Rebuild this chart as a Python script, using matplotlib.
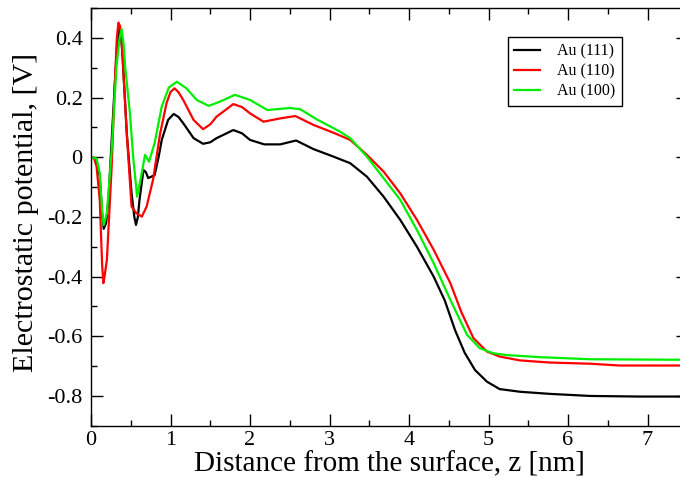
import numpy as np
import matplotlib
matplotlib.use('Agg')
import matplotlib.pyplot as plt
from matplotlib.ticker import MultipleLocator

plt.rcParams['font.family'] = 'Liberation Serif'
plt.rcParams['axes.unicode_minus'] = False

# Au (111) - black
z_111 = [0.0, 0.04, 0.07, 0.11, 0.14, 0.16, 0.19, 0.22, 0.26, 0.30, 0.33, 0.36, 0.38, 0.40,
         0.45, 0.51, 0.545, 0.566, 0.59, 0.61, 0.66, 0.69, 0.72, 0.80, 0.85, 0.89, 0.97,
         1.04, 1.10, 1.16, 1.29, 1.41, 1.50, 1.58, 1.79, 1.90, 2.0, 2.18, 2.38, 2.58,
         2.80, 3.05, 3.26, 3.47, 3.68, 3.89, 4.10, 4.31, 4.45, 4.58, 4.70, 4.83, 4.98, 5.14,
         5.40, 5.77, 6.28, 6.90, 7.6]
v_111 = [0.0, -0.002, -0.01, -0.065, -0.19, -0.24, -0.22, -0.14, 0.058, 0.248, 0.38, 0.432,
         0.40, 0.326, 0.08, -0.12, -0.20, -0.227, -0.20, -0.143, -0.043, -0.05, -0.07, -0.06,
         0.0, 0.058, 0.125, 0.145, 0.135, 0.114, 0.064, 0.045, 0.05, 0.064, 0.091, 0.08,
         0.058, 0.043, 0.043, 0.056, 0.027, 0.002, -0.020, -0.065, -0.132, -0.21, -0.30,
         -0.40, -0.48, -0.58, -0.655, -0.713, -0.752, -0.777, -0.786, -0.793, -0.80, -0.802,
         -0.802]

# Au (110) - red
z_110 = [0.0, 0.04, 0.07, 0.11, 0.14, 0.155, 0.17, 0.20, 0.26, 0.30, 0.325, 0.345, 0.365,
         0.385, 0.45, 0.51, 0.57, 0.64, 0.70, 0.78, 0.87, 0.95, 1.0, 1.05, 1.10, 1.16, 1.29,
         1.41, 1.50, 1.58, 1.79, 1.90, 2.0, 2.17, 2.38, 2.57, 2.80, 3.05, 3.26, 3.47, 3.68,
         3.89, 4.10, 4.31, 4.52, 4.66, 4.81, 4.98, 5.14, 5.40, 5.77, 6.28, 6.65, 7.6]
v_110 = [0.0, -0.005, -0.031, -0.143, -0.36, -0.422, -0.40, -0.344, -0.031, 0.248, 0.40,
         0.451, 0.44, 0.393, 0.08, -0.165, -0.188, -0.199, -0.165, -0.076, 0.08, 0.181,
         0.218, 0.231, 0.218, 0.192, 0.125, 0.094, 0.11, 0.136, 0.178, 0.168, 0.147, 0.119,
         0.13, 0.138, 0.108, 0.082, 0.058, 0.008, -0.048, -0.121, -0.21, -0.31, -0.422, -0.52,
         -0.606, -0.651, -0.668, -0.681, -0.688, -0.692, -0.698, -0.698]

# Au (100) - green
z_100 = [0.0, 0.07, 0.11, 0.14, 0.16, 0.20, 0.26, 0.32, 0.36, 0.385, 0.41, 0.43, 0.49,
         0.53, 0.58, 0.63, 0.68, 0.73, 0.80, 0.89, 0.98, 1.08, 1.20, 1.33, 1.48, 1.62, 1.81,
         2.0, 2.22, 2.50, 2.63, 2.84, 3.13, 3.26, 3.47, 3.68, 3.89, 4.10, 4.31, 4.52, 4.73,
         4.89, 5.06, 5.23, 5.65, 6.28, 7.6]
v_100 = [0.0, -0.005, -0.054, -0.18, -0.227, -0.188, 0.024, 0.303, 0.40, 0.429, 0.38, 0.303,
         0.147, 0.002, -0.132, -0.065, 0.008, -0.015, 0.047, 0.17, 0.234, 0.253, 0.231,
         0.192, 0.172, 0.186, 0.209, 0.192, 0.158, 0.165, 0.161, 0.127, 0.086, 0.064, 0.002,
         -0.070, -0.143, -0.244, -0.355, -0.478, -0.595, -0.64, -0.657, -0.663, -0.67,
         -0.677, -0.679]

x_ticks = [0, 1, 2, 3, 4, 5, 6, 7]
x_labels = ['0', '1', '2', '3', '4', '5', '6', '7']
y_ticks = [-0.8, -0.6, -0.4, -0.2, 0.0, 0.2, 0.4]
y_labels = ['-0.8', '-0.6', '-0.4', '-0.2', '0', '0.2', '0.4']

fig = plt.figure(figsize=(6.8, 4.84), dpi=100)
ax = fig.add_axes([91/680, 1 - 425.8/484, 597/680, 417.8/484])

ax.plot(z_111, v_111, color='black', lw=1.6, label='Au (111)')
ax.plot(z_110, v_110, color='#ff0000', lw=1.6, label='Au (110)')
ax.plot(z_100, v_100, color='#00ee00', lw=1.6, label='Au (100)')

ax.set_xlim(0, 597/79.5)
ax.set_ylim(-0.9, 0.5)

ax.set_xticks(x_ticks)
ax.set_xticklabels(x_labels)
ax.set_yticks(y_ticks)
ax.set_yticklabels(y_labels)
ax.xaxis.set_minor_locator(MultipleLocator(0.5))
ax.yaxis.set_minor_locator(MultipleLocator(0.1))
ax.tick_params(which='both', direction='in', top=True, right=True, width=1)
ax.tick_params(which='major', length=8.6, labelsize=16)
ax.tick_params(which='minor', length=4.3)
ax.tick_params(axis='x', pad=4)
ax.tick_params(axis='y', pad=6)
for s in ax.spines.values():
    s.set_linewidth(1)

ax.set_xlabel('Distance from the surface, z [nm]', fontsize=21, labelpad=1)
ax.set_ylabel('Electrostatic potential, [V]', fontsize=21.6)
ax.yaxis.set_label_coords(-0.087, 0.51)

leg = ax.legend(loc='upper left', bbox_to_anchor=(0.698, 0.930), fontsize=11.5,
                fancybox=False, edgecolor='black', framealpha=1, handlelength=1.6,
                handletextpad=1.1, borderpad=0.4, labelspacing=0.25, borderaxespad=0)
leg.get_frame().set_linewidth(1)

fig.savefig('out.png', dpi=100)
